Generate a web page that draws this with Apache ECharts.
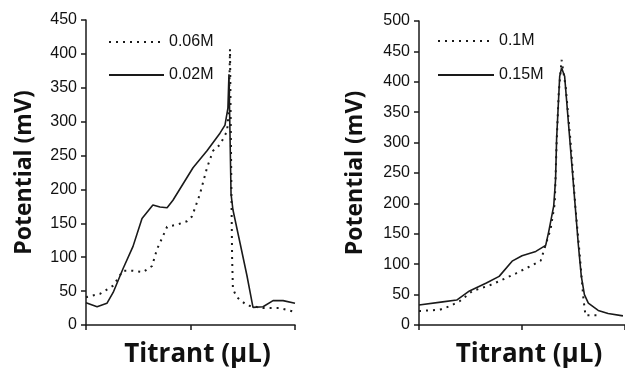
<!DOCTYPE html>
<html>
<head>
<meta charset="utf-8">
<script src="https://cdn.jsdelivr.net/npm/echarts@6/dist/echarts.min.js"></script>
<style>
  html, body { margin: 0; padding: 0; background: #fff; }
  #chart { width: 625px; height: 373px; }
</style>
</head>
<body>
<div id="chart"></div>
<script>
// left panel: titrant position (0-100 of axis) and potential (mV)
const x006 = [0, 6.7, 13, 17.7, 22.5, 27.3, 31.6, 34, 36.8, 38.8, 43.5, 48.3, 50.7, 54.5, 57.9, 60.8, 64.1, 67.5, 68.4, 68.9, 69.4, 69.9, 70.3, 72.2, 77, 84.7, 92.8, 99];
const y006 = [41, 46, 58, 80, 80, 78, 87, 112, 131, 145, 148, 153, 160, 193, 232, 257, 266, 286, 320, 407, 250, 100, 53, 41, 29, 25, 25, 20];
const x002 = [0, 5.3, 10, 13, 17.7, 22.5, 26.8, 32, 35.4, 38.8, 41.6, 46.4, 51.2, 57.9, 64.1, 66.5, 67.9, 68.4, 69.4, 70.3, 73.7, 77, 79.9, 84.7, 89.5, 94.3, 100];
const y002 = [33, 27, 32, 48, 83, 116, 157, 177, 174, 173, 184, 208, 232, 257, 283, 295, 320, 370, 193, 170, 121, 73, 26, 27, 36, 36, 32];

// right panel
const x01 = [0, 10.1, 14.9, 19.7, 26, 34.1, 38.9, 47.1, 54.8, 59.1, 63.9, 65.9, 66.8, 67.8, 69.2, 71.2, 73.6, 76, 77.9, 79.8, 80.8, 83.7, 88.5];
const y01 = [23, 25, 31, 39, 56, 65, 72, 85, 98, 106, 158, 200, 300, 380, 436, 392, 300, 190, 120, 44, 16, 16, 16];
const x015 = [0, 11.5, 18.3, 24.5, 32.7, 38.9, 45.2, 50, 56.7, 61.5, 63, 65.4, 66.3, 66.8, 68.3, 69.2, 70.7, 72.6, 75, 77.4, 78.8, 80.3, 82.2, 87, 91.8, 99];
const y015 = [33, 38, 41, 56, 69, 80, 105, 114, 121, 131, 154, 196, 240, 306, 409, 423, 409, 330, 230, 130, 80, 50, 36, 24, 19, 15];

const leftTicks = 50, leftMax = 450;
const rightTicks = 50, rightMax = 500;

function pairs(xs, ys) {
    return xs.map(function (x, i) { return [x, ys[i]]; });
}

const ink = '#1a1a1a';
const tickFont = { color: '#111', fontSize: 16, fontFamily: 'Liberation Sans, Arial, sans-serif' };
const titleFont = { color: '#111', fontFamily: 'Open Sans, sans-serif', fontWeight: 'bold' };

function xAxisFor(idx) {
    return {
        gridIndex: idx, type: 'value', min: 0, max: 100, interval: 50,
        axisLine: { lineStyle: { color: ink, width: 1.5 } },
        axisTick: { inside: false, length: 5, lineStyle: { color: ink, width: 1.5 } },
        axisLabel: { show: false },
        splitLine: { show: false },
        name: 'Titrant (µL)', nameLocation: 'middle', nameGap: 17,
        nameTextStyle: Object.assign({ fontSize: 26, padding: [0, 0, 0, 14] }, titleFont)
    };
}

function yAxisFor(idx, max, step, gap) {
    return {
        gridIndex: idx, type: 'value', min: 0, max: max, interval: step,
        axisLine: { show: true, lineStyle: { color: ink, width: 1.5 } },
        axisTick: { show: true, length: 5, lineStyle: { color: ink, width: 1.5 } },
        axisLabel: Object.assign({ margin: 9 }, tickFont),
        splitLine: { show: false },
        name: 'Potential (mV)', nameLocation: 'middle', nameGap: gap,
        nameTextStyle: Object.assign({ fontSize: 23 }, titleFont)
    };
}

function lineSeries(name, idx, data, dotted) {
    return {
        name: name, type: 'line', xAxisIndex: idx, yAxisIndex: idx,
        data: data, symbol: 'none', smooth: false,
        lineStyle: { color: ink, width: dotted ? 2 : 1.6, type: dotted ? [2, 5] : 'solid' },
        itemStyle: { color: ink }
    };
}

const legendText = { color: '#111', fontSize: 16, fontFamily: 'Liberation Sans, Arial, sans-serif' };

const chart = echarts.init(document.getElementById('chart'));
const option = {
    animation: false,
    backgroundColor: '#fff',
    grid: [
        { left: 86, top: 20, width: 209, height: 310 },
        { left: 419, top: 21, width: 206, height: 306 }
    ],
    xAxis: [xAxisFor(0), xAxisFor(1)],
    yAxis: [yAxisFor(0, leftMax, leftTicks, 50), yAxisFor(1, rightMax, rightTicks, 52)],
    legend: [
        {
            data: ['0.06M', '0.02M'], orient: 'vertical', left: 103, top: 29,
            itemWidth: 55, itemHeight: 14, itemGap: 17,
            itemStyle: { opacity: 0 },
            textStyle: legendText
        },
        {
            data: ['0.1M', '0.15M'], orient: 'vertical', left: 432, top: 28,
            itemWidth: 56, itemHeight: 14, itemGap: 18,
            itemStyle: { opacity: 0 },
            textStyle: legendText
        }
    ],
    series: [
        lineSeries('0.06M', 0, pairs(x006, y006), true),
        lineSeries('0.02M', 0, pairs(x002, y002), false),
        lineSeries('0.1M', 1, pairs(x01, y01), true),
        lineSeries('0.15M', 1, pairs(x015, y015), false)
    ]
};
chart.setOption(option);
window.addEventListener('resize', function () {
    chart.resize();
});
</script>
</body>
</html>
